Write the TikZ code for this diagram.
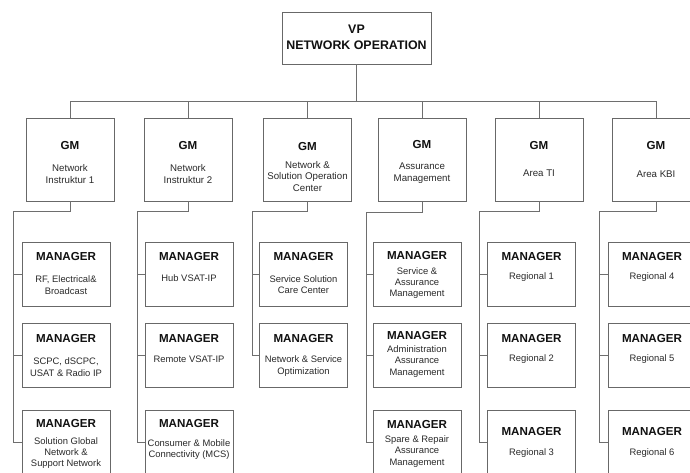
\documentclass[tikz,border=0pt]{standalone}
\usepackage{fontspec}
\setmainfont{Liberation Sans}
\definecolor{lncol}{HTML}{6E6E6E}
\definecolor{bxcol}{HTML}{686868}
\definecolor{txt}{HTML}{111111}
\definecolor{txtb}{HTML}{2A2A2A}
\begin{document}
\begin{tikzpicture}[x=1pt,y=-1pt,
  ln/.style={draw=lncol,line width=0.9pt},
  bx/.style={draw=bxcol,line width=0.9pt,fill=white,inner sep=0pt,minimum width=88pt},
  gmbox/.style={bx,minimum height=83pt},
  mbox/.style={bx,minimum height=64pt},
  vpbox/.style={bx,minimum width=149pt,minimum height=52pt},
  vpttl/.style={font=\fontsize{12.4}{14}\selectfont\bfseries,text=txt,inner sep=0pt},
  ttl/.style={font=\fontsize{11.6}{13}\selectfont\bfseries,text=txt,inner sep=0pt},
  gsub/.style={font=\fontsize{9.7}{11.7}\selectfont,text=txtb,align=center,inner sep=0pt},
  sub/.style={font=\fontsize{9.4}{11.4}\selectfont,text=txtb,align=center,inner sep=0pt}]
\fill[white] (0,0) rectangle (690,473);
\useasboundingbox (0,0) rectangle (690,473);

% ---------- VP ----------
\node[vpbox] (vp) at (356.5,38) {};
\node[vpttl] (vpt1) at (356.5,29) {VP};
\node[vpttl] (vpt2) at (356.5,45) {NETWORK OPERATION};

% ---------- GM boxes ----------
\node[gmbox] (gm1) at (70,159.5) {};
\node[gmbox] (gm2) at (188,159.5) {};
\node[gmbox] (gm3) at (307.5,159.5) {};
\node[gmbox] (gm4) at (422,160) {};
\node[gmbox] (gm5) at (539,159.5) {};
\node[gmbox] (gm6) at (656,159.5) {};

\node[ttl] (gm1t) at (70,146) {GM};
\node[ttl] (gm2t) at (188,146) {GM};
\node[ttl] (gm3t) at (307.5,147) {GM};
\node[ttl] (gm4t) at (422,145) {GM};
\node[ttl] (gm5t) at (539,146) {GM};
\node[ttl] (gm6t) at (656,146) {GM};

\node[gsub] (gm1s) at (70,174) {Network\\Instruktur 1};
\node[gsub] (gm2s) at (188,174) {Network\\Instruktur 2};
\node[gsub] (gm3s) at (307.5,176.5) {Network \&\\Solution Operation\\Center};
\node[gsub] (gm4s) at (422,173.5) {Assurance\\Management};
\node[gsub] (gm5s) at (539,173) {Area TI};
\node[gsub] (gm6s) at (656,174) {Area KBI};

% ---------- bus from VP ----------
\coordinate (bus) at (0,101);
\draw[ln] (vp.south) -- (vp.south |- bus);
\draw[ln] (gm1.north) |- (bus -| gm6.north) -- (gm6.north);
\foreach \g in {gm2,gm3,gm4,gm5} \draw[ln] (\g.north) -- (\g.north |- bus);

% ---------- manager boxes ----------
% column 1
\node[mbox] (m11) at (66,274) {};
\node[mbox] (m12) at (66,355) {};
\node[mbox] (m13) at (66,442.5) {};
\node[ttl] (m11t) at (66,257) {MANAGER};
\node[sub] (m11s) at (66,285) {RF, Electrical\&\\Broadcast};
\node[ttl] (m12t) at (66,339) {MANAGER};
\node[sub] (m12s) at (66,367) {SCPC, dSCPC,\\USAT \& Radio IP};
\node[ttl] (m13t) at (66,424) {MANAGER};
\node[sub] (m13s) at (66,453) {Solution Global\\Network \&\\Support Network};

% column 2
\node[mbox] (m21) at (189,274) {};
\node[mbox] (m22) at (189,355) {};
\node[mbox] (m23) at (189,442.5) {};
\node[ttl] (m21t) at (189,257) {MANAGER};
\node[sub] (m21s) at (189,278) {Hub VSAT-IP};
\node[ttl] (m22t) at (189,339) {MANAGER};
\node[sub] (m22s) at (189,359.5) {Remote VSAT-IP};
\node[ttl] (m23t) at (189,424) {MANAGER};
\node[sub] (m23s) at (189,449.5) {Consumer \& Mobile\\Connectivity (MCS)};

% column 3
\node[mbox] (m31) at (303.5,274) {};
\node[mbox] (m32) at (303.5,355) {};
\node[ttl] (m31t) at (303.5,257) {MANAGER};
\node[sub] (m31s) at (303.5,284.5) {Service Solution\\Care Center};
\node[ttl] (m32t) at (303.5,339) {MANAGER};
\node[sub] (m32s) at (303.5,366) {Network \& Service\\Optimization};

% column 4
\node[mbox] (m41) at (417,274) {};
\node[mbox] (m42) at (417,355) {};
\node[mbox] (m43) at (417,442.5) {};
\node[ttl] (m41t) at (417,256) {MANAGER};
\node[sub] (m41s) at (417,283) {Service \&\\Assurance\\Management};
\node[ttl] (m42t) at (417,336) {MANAGER};
\node[sub] (m42s) at (417,361.5) {Administration\\Assurance\\Management};
\node[ttl] (m43t) at (417,425) {MANAGER};
\node[sub] (m43s) at (417,451.5) {Spare \& Repair\\Assurance\\Management};

% column 5
\node[mbox] (m51) at (531.5,274) {};
\node[mbox] (m52) at (531.5,355) {};
\node[mbox] (m53) at (531.5,442.5) {};
\node[ttl] (m51t) at (531.5,257) {MANAGER};
\node[sub] (m51s) at (531.5,277.5) {Regional 1};
\node[ttl] (m52t) at (531.5,339) {MANAGER};
\node[sub] (m52s) at (531.5,359.5) {Regional 2};
\node[ttl] (m53t) at (531.5,432) {MANAGER};
\node[sub] (m53s) at (531.5,453) {Regional 3};

% column 6
\node[mbox] (m61) at (652,274) {};
\node[mbox] (m62) at (652,355) {};
\node[mbox] (m63) at (652,442.5) {};
\node[ttl] (m61t) at (652,257) {MANAGER};
\node[sub] (m61s) at (652,277.5) {Regional 4};
\node[ttl] (m62t) at (652,339) {MANAGER};
\node[sub] (m62s) at (652,359.5) {Regional 5};
\node[ttl] (m63t) at (652,432) {MANAGER};
\node[sub] (m63s) at (652,453) {Regional 6};

% ---------- column connectors ----------
\coordinate (c1) at (13,0);
\coordinate (c2) at (137,0);
\coordinate (c3) at (252,0);
\coordinate (c4) at (366,0);
\coordinate (c5) at (479,0);
\coordinate (c6) at (599,0);

\foreach \g/\c/\last in {gm1/c1/m13, gm2/c2/m23, gm3/c3/m32, gm4/c4/m43, gm5/c5/m53, gm6/c6/m63}
  \draw[ln] (\g.south) -- ++(0,10) -| (\last.west -| \c) -- (\last.west);
\foreach \m/\c in {m11/c1, m12/c1, m21/c2, m22/c2, m31/c3, m41/c4, m42/c4, m51/c5, m52/c5, m61/c6, m62/c6}
  \draw[ln] (\m.west -| \c) -- (\m.west);
\end{tikzpicture}
\end{document}
